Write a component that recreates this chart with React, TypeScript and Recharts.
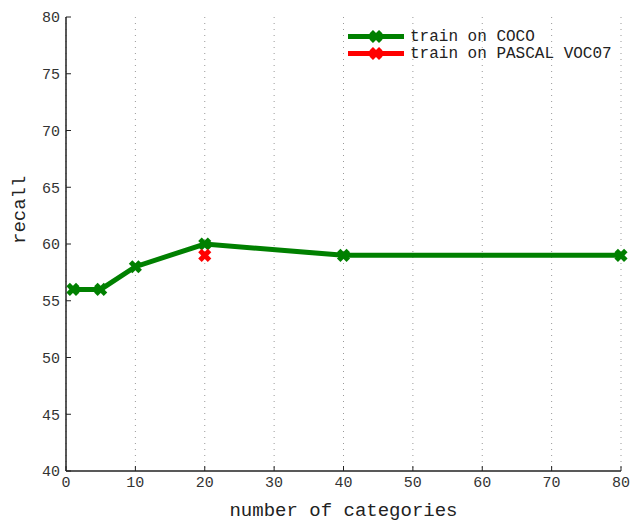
import { LineChart, Line, XAxis, YAxis, CartesianGrid, Legend } from "recharts";

const cocoSeries = [
  { n: 1, recall: 56 },
  { n: 5, recall: 56 },
  { n: 10, recall: 58 },
  { n: 20, recall: 60 },
  { n: 40, recall: 59 },
  { n: 80, recall: 59 },
];
const pascalSeries = [{ n: 20, recall: 59 }];
const xTicks = [0, 10, 20, 30, 40, 50, 60, 70, 80];
const yTicks = [40, 45, 50, 55, 60, 65, 70, 75, 80];

const FONT = "'Liberation Mono', 'DejaVu Sans Mono', monospace";

const XMark = (props: any) => {
  const { cx, cy, fill } = props;
  if (cx == null || cy == null) return null;
  const s = 4.8;
  return (
    <g>
      <line x1={cx - s} y1={cy - s} x2={cx + s} y2={cy + s} stroke={fill} strokeWidth={5} />
      <line x1={cx - s} y1={cy + s} x2={cx + s} y2={cy - s} stroke={fill} strokeWidth={5} />
    </g>
  );
};

const LegendBox = (props: any) => {
  const items = props.payload || [];
  return (
    <div style={{ fontFamily: FONT, fontSize: 16 }}>
      {items.map((it: any) => (
        <div key={it.value} style={{ display: "flex", alignItems: "center", height: 17 }}>
          <svg width={64} height={17}>
            <line x1={2} y1={8.5} x2={58} y2={8.5} stroke={it.color} strokeWidth={5} />
            <XMark cx={30} cy={8.5} fill={it.color} />
          </svg>
          <span style={{ color: "#222", whiteSpace: "pre" }}>{it.value}</span>
        </div>
      ))}
    </div>
  );
};

export default function App() {
  return (
    <div style={{ position: "absolute", left: 0, top: 0, width: 630, height: 522, background: "#fff" }}>
      <LineChart width={630} height={522} margin={{ top: 17, right: 9, bottom: 0, left: 0 }}>
        <CartesianGrid vertical horizontal={false} stroke="#999" strokeDasharray="1 5" />
        <XAxis
          type="number"
          dataKey="n"
          domain={[0, 80]}
          ticks={xTicks}
          allowDuplicatedCategory={false}
          height={51}
          tickSize={-5}
          tickMargin={10}
          axisLine={{ stroke: "#222", strokeWidth: 1.5 }}
          tickLine={{ stroke: "#222" }}
          tick={{ fill: "#333", fontFamily: FONT, fontSize: 15 }}
          label={{ value: "number of categories", position: "insideBottom", offset: 6, fill: "#222", fontFamily: FONT, fontSize: 19 }}
        />
        <YAxis
          type="number"
          domain={[40, 80]}
          ticks={yTicks}
          width={66}
          tickSize={-5}
          tickMargin={11}
          axisLine={{ stroke: "#222", strokeWidth: 1.5 }}
          tickLine={{ stroke: "#222" }}
          tick={{ fill: "#333", fontFamily: FONT, fontSize: 15 }}
          label={{ value: "recall", angle: -90, position: "insideLeft", offset: 18, fill: "#222", fontFamily: FONT, fontSize: 19 }}
        />
        <Legend
          layout="horizontal"
          verticalAlign="middle"
          align="center"
          wrapperStyle={{ top: 28, left: 346, width: 290 }}
          content={<LegendBox />}
        />
        <Line
          data={cocoSeries}
          dataKey="recall"
          name="train on COCO"
          stroke="#008000"
          strokeWidth={5}
          dot={<XMark fill="#008000" />}
          activeDot={false}
          isAnimationActive={false}
        />
        <Line
          data={pascalSeries}
          dataKey="recall"
          name="train on PASCAL VOC07"
          stroke="#ff0000"
          strokeWidth={5}
          dot={<XMark fill="#ff0000" />}
          activeDot={false}
          isAnimationActive={false}
        />
      </LineChart>
    </div>
  );
}
